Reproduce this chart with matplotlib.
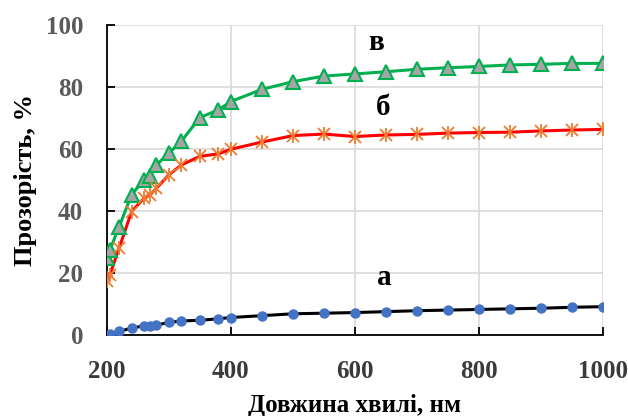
import matplotlib
matplotlib.use("Agg")
import matplotlib.pyplot as plt

# wavelength, nm
wavelength = [200, 205, 220, 240, 260, 270, 280, 300, 320, 350, 380, 400,
              450, 500, 550, 600, 650, 700, 750, 800, 850, 900, 950, 1000]

# transmittance, %
curve_a = [0.0, 0.2, 1.1, 2.2, 2.9, 3.0, 3.2, 4.0, 4.5, 4.7, 5.2, 5.6,
           6.2, 6.8, 7.0, 7.2, 7.5, 7.8, 8.0, 8.2, 8.4, 8.6, 8.9, 9.1]
curve_b = [17.5, 19.4, 28.0, 39.8, 44.1, 45.2, 47.3, 51.6, 54.8, 57.6, 58.4, 59.9,
           62.2, 64.3, 64.8, 64.0, 64.5, 64.7, 65.1, 65.3, 65.4, 65.8, 66.1, 66.3]
curve_v = [24.7, 27.4, 34.9, 45.2, 50.0, 51.3, 54.8, 58.6, 62.4, 70.1, 72.6, 75.3,
           79.2, 81.7, 83.5, 84.2, 84.9, 85.7, 86.2, 86.6, 87.1, 87.3, 87.6, 87.6]

curve_labels = ["а", "б", "в"]
label_pos = [(648, 18.5), (645, 73.5), (634, 94.5)]

x_ticks = [200, 400, 600, 800, 1000]
y_ticks = [0, 20, 40, 60, 80, 100]

plt.rcParams["font.family"] = ["Liberation Serif", "DejaVu Serif"]
plt.rcParams["font.weight"] = "bold"

fig = plt.figure(figsize=(6.28, 4.16), dpi=100)
ax = fig.add_axes([0.170, 0.195, 0.790, 0.745])

ax.plot(wavelength, curve_a, color="black", lw=2.2, marker="o", ms=6.5,
        mfc="#4472C4", mec="#4472C4", zorder=3)

ax.plot(wavelength, curve_b, color="#FF0000", lw=2.2, zorder=3)
ax.plot(wavelength, curve_b, ls="none", marker="x", ms=8, mew=1.3,
        color="#ED7D31", zorder=4)
ax.plot(wavelength, curve_b, ls="none", marker="|", ms=10, mew=1.3,
        color="#ED7D31", zorder=4)

ax.plot(wavelength, curve_v, color="#00B050", lw=2.2, marker="^", ms=10,
        mfc="#A5A5A5", mec="#00B050", mew=1.5, zorder=3)

for lab, (lx, ly) in zip(curve_labels, label_pos):
    ax.text(lx, ly, lab, fontsize=21, fontweight="bold", ha="center",
            va="center", color="black")

ax.set_xlim(200, 1000)
ax.set_ylim(0, 100)
ax.set_xticks(x_ticks)
ax.set_yticks(y_ticks)
ax.grid(True, color="#D9D9D9", lw=1.2)
ax.set_axisbelow(True)

for side in ["top", "right"]:
    ax.spines[side].set_visible(False)
for side in ["left", "bottom"]:
    ax.spines[side].set_color("black")
    ax.spines[side].set_linewidth(1.3)

ax.tick_params(axis="both", direction="in", length=6, width=1.3,
               labelsize=18, labelcolor="#595959", colors="black")
ax.tick_params(axis="x", pad=18, labelcolor="#3A3A3A")
ax.tick_params(axis="y", pad=17)

ax.set_xlabel("Довжина хвилі, нм", fontsize=18, fontweight="bold", labelpad=8)
ax.set_ylabel("Прозорість, %", fontsize=19, fontweight="bold", labelpad=6)

fig.savefig("out.png", dpi=100)
